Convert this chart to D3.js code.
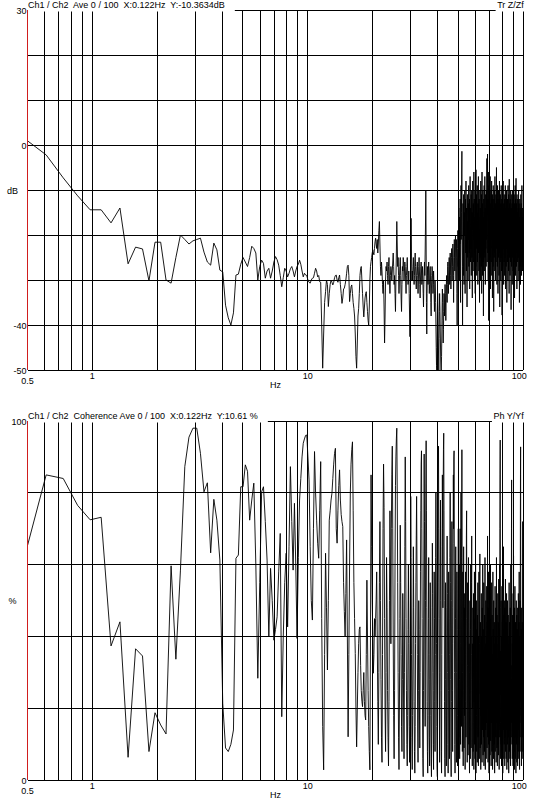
<!DOCTYPE html>
<html>
<head>
<meta charset="utf-8">
<script src="https://cdn.jsdelivr.net/npm/d3@7/dist/d3.min.js"></script>
<style>
  html, body { margin: 0; padding: 0; background: #fff; }
  svg { display: block; }
  text { font-family: "Liberation Sans", Arial, sans-serif; font-size: 9px; fill: #000; white-space: pre; }
</style>
</head>
<body>
<script>
// analyser FFT bins: value i sits at (firstBin + i) * binWidth Hz
var binWidth = 0.1220703;
var firstBin = 4;

// transfer function Tr Z/Zf, dB
var trValues = [
  1.3, -2.2, -7.3, -11.3, -14.4, -14.4, -17.3,
  -14, -26.4, -22.7, -23.1, -30.2, -21.6, -21.6, -30, -30.7, -25,
  -20, -21, -22, -21.3, -21, -20.7, -23.8, -26, -26.7, -21.8,
  -23.3, -27.8, -28.2, -35.6, -38.4, -40, -37.3, -28.9, -28.7, -26.5,
  -25, -26, -27, -25, -22.5, -23, -24, -30, -27, -25.6,
  -26.3, -29.6, -28, -27.4, -29.6, -28, -26, -24.8, -25.5, -26.7,
  -29, -31.5, -29.5, -27.4, -28, -29.3, -28.5, -27.5, -27, -28,
  -29.3, -28, -27, -26.5, -25.6, -26.5, -28, -29.3, -28.5, -28.9,
  -29, -30, -30.5, -30.7, -30, -29.6, -29.5, -28.5, -27.4, -28,
  -29.3, -29, -30.4, -30.5, -40, -49.6, -42, -35, -32.6, -30,
  -31, -35.9, -33, -31, -30, -30.5, -31.1, -30.5, -29.5, -29,
  -28.9, -30, -30.5, -29.5, -28.9, -31, -33, -35.2, -34, -32,
  -31.8, -31, -30, -28.5, -27, -26.7, -29, -34.8, -33, -31.5,
  -31.1, -33, -35, -36.3, -38, -42, -47, -49.6, -44, -38,
  -36.3, -33, -29, -27.5, -27, -30, -33, -36, -38.2, -36,
  -34, -33, -32.6, -35, -37, -39, -40, -36, -30, -27,
  -25.9, -25, -24, -23.3, -24, -24.4, -23, -21.5, -20.7, -22,
  -23, -21, -24, -22, -19, -17, -22, -27, -29, -26,
  -28, -31, -33, -30, -36, -44, -38, -30, -27, -28,
  -26, -29, -31, -27, -25, -30, -33, -29, -27, -28,
  -30, -28, -26, -24, -27, -31, -29, -33, -37, -30,
  -24, -17, -22, -27, -25, -29, -33, -30, -27, -25,
  -29, -34, -37, -31, -27, -28, -25, -26, -30, -28,
  -26, -27, -30, -33, -29, -27, -25, -28, -31, -30,
  -28, -33, -38, -42.6, -35, -25, -16.3, -24, -30, -28,
  -30, -27, -25, -28, -31, -29, -26, -24, -27, -30,
  -32, -29, -27, -26, -29, -33, -30, -27, -25, -28,
  -31, -34, -30, -27, -26, -28, -31, -29, -27, -30,
  -33, -36, -31, -28, -26, -29, -24, -18, -10.2, -22,
  -35, -42, -33, -27, -29, -31, -28, -26, -30, -33,
  -31, -28, -27, -30, -35, -38, -32, -29, -27, -28,
  -30, -33, -31, -28, -30, -34, -37, -33, -30, -32,
  -35, -40, -45, -49, -50, -44, -38, -33, -36, -42,
  -46, -50, -43, -37, -33, -36, -40, -44, -48, -50,
  -50, -47, -42, -36, -32, -35, -39, -44, -41, -37,
  -33, -35, -38, -34, -31, -33, -36, -39, -35, -31,
  -29, -32, -35, -31, -27, -26, -29, -33, -30, -27,
  -25, -28, -31, -27, -24, -26, -29, -32, -28, -25,
  -23, -26, -30, -27, -24, -22, -25, -29, -35, -28,
  -24, -21, -25, -28, -24, -22, -20, -26, -30, -25,
  -21, -24, -33, -40, -30, -23, -19, -22, -27, -20,
  -14, -25, -18, -30, -16, -22, -12, -28, -35, -19,
  -9, -21, -15, -6, -1.4, -18, -27, -40, -24, -13,
  -17, -29, -11, -23, -31, -15, -20, -10, -26, -33,
  -18, -12, -24, -8, -19, -28, -14, -22, -36, -16,
  -11, -25, -17, -30, -13, -21, -9, -27, -19, -24,
  -12, -32, -16, -7, -20, -26, -14, -23, -11, -29,
  -18, -10, -25, -15, -34, -19, -8, -22, -28, -13,
  -17, -26, -6, -21, -12, -30, -16, -24, -10, -33,
  -20, -14, -27, -5.5, -18, -23, -11, -29, -15, -22,
  -9, -26, -17, -31, -13, -20, -7, -24, -16, -28,
  -12, -21, -35, -18, -10, -25, -14, -30, -19, -8,
  -22, -15, -27, -11, -33, -17, -6, -23, -13, -29,
  -19, -10, -26, -16, -38, -21, -12, -24, -9, -28,
  -15, -20, -7, -25, -14, -31, -18, -11, -23, -16,
  -27, -10, -21, -13, -3, -19, -26, -8, -2, -17,
  -24, -12, -30, -6, -20, -39, -15, -9, -22, -14,
  -28, -11, -18, -25, -7, -16, -32, -13, -21, -10,
  -26, -15, -19, -8, -29, -12, -23, -17, -34, -11,
  -20, -14, -27, -9, -22, -16, -37, -12, -18, -25,
  -10, -21, -15, -28, -7, -19, -24, -13, -30, -17,
  -11, -26, -14, -20, -5, -23, -16, -31, -12, -18,
  -27, -9, -22, -15, -33, -13, -19, -25, -10, -21,
  -16, -29, -12, -24, -8, -20, -36, -14, -18, -26,
  -11, -22, -15, -30, -13, -19, -9, -25, -17, -28,
  -12, -21, -37.8, -16, -24, -10, -27, -14, -20, -18,
  -8, -23, -15, -31, -13, -19, -26, -11, -22, -17,
  -29, -12, -20, -14, -25, -9, -18, -32, -15, -21,
  -11, -27, -16, -23, -10, -19, -35, -13, -22, -17,
  -26, -12, -20, -15, -30, -9, -18, -24, -14, -28,
  -11, -21, -16, -33, -7.6, -19, -25, -13, -22, -17,
  -29, -12, -20, -15, -26, -10, -23, -18, -36.6, -14,
  -21, -16, -27, -11, -19, -24, -13, -31, -17, -22,
  -10, -25, -15, -20, -28, -12, -18, -23, -14, -30,
  -16, -21, -11, -26, -19, -34, -13, -22, -17, -25,
  -9, -20, -15, -29, -12, -24, -18, -7.4, -22, -16,
  -27, -13, -21, -19, -32, -11, -24, -17, -20, -15,
  -26, -12, -22, -18, -30, -14, -20, -25, -10, -23,
  -17, -28, -13, -21, -16, -35, -19, -24, -12, -22,
  -18, -27, -14, -20, -31, -15, -23, -11, -26, -19,
  -13, -24, -17, -29, -15, -21, -9, -25, -18, -22,
  -14, -28, -16, -20, -26, -19, -23, -27, -22
];

// coherence Ph Y/Yf, %
var cohValues = [
  63, 85, 84, 76.5, 72.5, 73.2, 37.4,
  44.1, 6.4, 36.6, 34.6, 8, 18.8, 15.4, 12.9, 59.7, 33.7,
  58.5, 87.3, 95.5, 98, 98, 91, 80.3, 82.8, 63.3, 78.2,
  72.4, 61.3, 21.4, 9, 8, 10, 14, 61.8, 62.7, 81.7,
  81.7, 87.8, 86, 72.4, 78, 82.7, 60, 28.4, 55, 80.3,
  81.7, 72, 61.3, 40, 59, 50, 39, 42, 45.5, 58,
  68.7, 17.7, 40, 55, 63.2, 42.7, 65, 87.3, 72, 58.5,
  77.1, 60, 39.5, 62, 78, 84, 90, 93.8, 95, 96,
  96.1, 90, 83.6, 65, 50, 44.6, 70, 91.5, 80, 72.4,
  66, 61.8, 75, 88.7, 45, 15, 2.9, 35, 63.2, 48,
  30.7, 50, 72.4, 75, 78, 79.9, 84, 88, 91, 92.4,
  70, 66, 75, 82, 86.4, 78, 74, 72, 70.6, 55,
  47, 40, 52, 66.9, 40, 12.1, 35, 60, 80, 88,
  92, 94.2, 75, 55, 45, 35.3, 20, 9.3, 20, 30,
  38, 42, 42.7, 32, 25, 22, 20.5, 25, 30, 22,
  18, 16.8, 35, 55.7, 40, 25, 15, 8, 2.9, 40,
  85, 65, 50, 40, 29.8, 35, 45, 40, 45, 50.2,
  58, 40, 22, 10, 30, 55, 72, 50, 28, 12,
  5, 35, 70, 88, 76, 45, 20, 8, 30, 62,
  48, 25, 12, 4, 22, 50, 75, 60, 38, 70,
  85, 93, 70, 40, 18, 6, 25, 60, 82, 90,
  95, 98, 80, 55, 30, 12, 3, 20, 45, 71,
  55, 35, 15, 8, 28, 52, 40, 20, 6, 30,
  65, 90, 72, 45, 25, 10, 4, 18, 42, 60,
  38, 15, 5, 22, 50, 79, 62, 35, 12, 3,
  18, 40, 65, 48, 22, 8, 2, 15, 38, 55,
  68, 79, 60, 35, 14, 5, 25, 50, 42, 20,
  9, 30, 58, 75, 88, 91.7, 70, 45, 20, 6,
  1, 25, 60, 90.8, 72, 40, 15, 50, 80, 94.5,
  75, 48, 22, 8, 2, 18, 45, 62, 35, 12,
  4, 28, 55, 40, 18, 6, 1, 20, 48, 66,
  52, 30, 10, 3, 25, 58, 45, 22, 8, 35,
  62, 80, 60, 38, 15, 4, 1, 25, 55, 85,
  93, 70, 45, 20, 5, 30, 60, 78, 50, 25,
  8, 2, 35, 65, 85, 70, 48, 80, 92, 96.6,
  75, 50, 22, 6, 1, 28, 55, 40, 18, 4,
  20, 48, 68, 52, 30, 10, 2, 25, 58, 45,
  20, 6, 35, 62, 80, 55, 28, 8, 1, 22,
  50, 72, 48, 25, 8, 38, 66, 85, 70, 90,
  91.7, 60, 30, 10, 2, 20, 45, 65, 40, 15,
  5, 30, 58, 42, 18, 4, 26, 52, 70, 48,
  12, 35, 60, 28, 6, 42, 70, 38, 10, 55,
  80, 45, 15, 62, 92, 50, 8, 30, 58, 20,
  4, 40, 65, 25, 9, 48, 18, 52, 30, 3,
  22, 58, 35, 12, 45, 68, 75, 40, 14, 5,
  32, 55, 20, 7, 44, 62, 26, 10, 38, 15,
  2, 30, 50, 18, 6, 42, 60, 25, 9, 35,
  55, 68, 28, 12, 4, 38, 20, 48, 8, 30,
  52, 16, 3, 40, 22, 58, 10, 34, 6, 45,
  25, 60, 14, 2, 36, 50, 18, 8, 42, 28,
  5, 46, 20, 55, 12, 32, 4, 40, 24, 58,
  15, 6, 38, 50, 63, 22, 9, 44, 28, 3,
  35, 18, 52, 10, 40, 26, 5, 48, 14, 30,
  60, 20, 7, 42, 32, 12, 55, 4, 36, 22,
  8, 46, 18, 62, 28, 3, 38, 14, 50, 24,
  6, 40, 16, 54, 30, 9, 44, 20, 68, 12,
  34, 5, 48, 22, 58, 10, 36, 2, 42, 26,
  14, 52, 30, 7, 45, 18, 60, 11, 38, 24,
  4, 40, 16, 55, 28, 8, 46, 20, 35, 3,
  30, 58, 12, 42, 22, 6, 50, 18, 38, 10,
  44, 26, 2, 36, 15, 54, 8, 32, 20, 48,
  12, 40, 5, 28, 62, 16, 38, 9, 46, 22,
  4, 34, 18, 52, 10, 30, 44, 7, 24, 56,
  14, 38, 3, 42, 20, 60, 12, 70, 85, 94.7,
  48, 16, 6, 36, 24, 50, 10, 32, 4, 40,
  18, 54, 8, 28, 44, 12, 36, 2, 46, 22,
  14, 38, 65, 20, 6, 42, 28, 10, 50, 16,
  34, 4, 48, 22, 12, 40, 56, 8, 30, 18,
  44, 6, 36, 14, 52, 24, 3, 42, 16, 32,
  10, 50, 20, 38, 5, 28, 46, 12, 34, 22,
  2, 40, 16, 55, 26, 8, 44, 18, 30, 6,
  36, 14, 48, 22, 4, 42, 60, 10, 28, 16,
  50, 70, 83.6, 40, 12, 32, 20, 6, 38, 24,
  46, 10, 30, 4, 52, 18, 36, 62.5, 14, 26,
  8, 42, 20, 34, 3, 48, 16, 28, 54, 12,
  38, 6, 24, 44, 14, 32, 2, 40, 20, 50,
  10, 30, 18, 46, 5, 36, 22, 12, 42, 28,
  4, 48, 16, 34, 8, 26, 52, 14, 38, 20,
  6, 44, 24, 58, 10, 30, 3, 40, 18, 36,
  12, 50, 22, 72, 85, 92.8, 60, 28, 8, 34,
  16, 42, 4, 26, 48, 14, 36, 20, 6, 30,
  44, 12, 24, 72, 38, 8, 28, 18, 40
];

var freqGrid   = [0.6, 0.7, 0.8, 0.9, 1, 2, 3, 4, 5, 6, 7, 8, 9, 10, 20, 30, 40, 50, 60, 70, 80, 90, 100];
var freqLabels = [1, 10, 100];
var trGrid     = [30, 20, 10, 0, -10, -20, -30, -40, -50];
var trLabels   = [30, 0, -40, -50];
var cohGrid    = [100, 80, 60, 40, 20, 0];
var cohLabels  = [100, 0];

var width = 534, height = 805;

var svg = d3.select("body").append("svg")
    .attr("width", width)
    .attr("height", height);

var x = d3.scaleLog().domain([0.5, 100]).range([27.5, 523.3]);

function toPoints(values) {
    return values.map(function(v, i) { return { f: (firstBin + i) * binWidth, v: v }; });
}

function drawPanel(cfg) {
    var y = cfg.y;
    var top = y.range()[1], bottom = y.range()[0];
    var left = x.range()[0], right = x.range()[1];
    var g = svg.append("g");

    g.append("clipPath").attr("id", cfg.id)
      .append("rect")
        .attr("x", left).attr("y", top)
        .attr("width", right - left).attr("height", bottom - top);

    g.selectAll(".vgrid")
        .data(freqGrid)
      .enter().append("line")
        .attr("x1", function(d) { return x(d); })
        .attr("x2", function(d) { return x(d); })
        .attr("y1", top).attr("y2", bottom)
        .attr("stroke", "#000")
        .attr("shape-rendering", "crispEdges");

    g.selectAll(".hgrid")
        .data(cfg.grid)
      .enter().append("line")
        .attr("x1", left).attr("x2", right)
        .attr("y1", function(d) { return y(d); })
        .attr("y2", function(d) { return y(d); })
        .attr("stroke", "#000")
        .attr("shape-rendering", "crispEdges");

    var line = d3.line()
        .x(function(d) { return x(d.f); })
        .y(function(d) { return y(d.v); });

    g.append("path")
        .datum(toPoints(cfg.values))
        .attr("clip-path", "url(#" + cfg.id + ")")
        .attr("fill", "none")
        .attr("stroke", "#000")
        .attr("stroke-width", 0.9)
        .attr("stroke-linejoin", "round")
        .attr("d", line);

    // title boxes sit on top of the upper grid line
    var lbox = g.append("rect").attr("fill", "#fff");
    var title = g.append("text")
        .attr("x", left + 0.5)
        .attr("y", top - 2)
        .text(cfg.title);
    var tw = title.node().getComputedTextLength();
    lbox.attr("x", 0).attr("y", top - 11)
        .attr("width", left + 0.5 + tw + 10).attr("height", 12.5);

    var rbox = g.append("rect").attr("fill", "#fff");
    var rtitle = g.append("text")
        .attr("x", right + 0.5)
        .attr("y", top - 2)
        .attr("text-anchor", "end")
        .text(cfg.tag);
    var rw = rtitle.node().getComputedTextLength();
    rbox.attr("x", right + 0.5 - rw - 1.5).attr("y", top - 11)
        .attr("width", width).attr("height", 12.5);

    // red left axis
    g.append("line")
        .attr("x1", left).attr("x2", left)
        .attr("y1", top).attr("y2", bottom)
        .attr("stroke", "#d01e1e")
        .attr("stroke-width", 1)
        .attr("shape-rendering", "crispEdges");

    g.selectAll(".ylab")
        .data(cfg.labels)
      .enter().append("text")
        .attr("x", left - 1)
        .attr("y", function(d) { return y(d) + 3.5; })
        .attr("text-anchor", "end")
        .text(function(d) { return d; });

    g.append("text")
        .attr("x", 12.5)
        .attr("y", y((y.domain()[0] + y.domain()[1]) / 2) + 3.5)
        .attr("text-anchor", "middle")
        .text(cfg.unit);

    g.append("text")
        .attr("x", x(0.5))
        .attr("y", bottom + 14)
        .attr("text-anchor", "middle")
        .text("0.5");

    g.selectAll(".xlab")
        .data(freqLabels)
      .enter().append("text")
        .attr("x", function(d) { return d === 100 ? x(d) + 3.5 : x(d); })
        .attr("y", bottom + 8.5)
        .attr("text-anchor", function(d) { return d === 100 ? "end" : "middle"; })
        .text(function(d) { return d; });

    g.append("text")
        .attr("x", (left + right) / 2)
        .attr("y", bottom + 18)
        .attr("text-anchor", "middle")
        .text("Hz");
}

drawPanel({
    id: "clipTr",
    y: d3.scaleLinear().domain([-50, 30]).range([370, 10]),
    grid: trGrid,
    labels: trLabels,
    values: trValues,
    unit: "dB",
    title: "Ch1 / Ch2  Ave 0 / 100  X:0.122Hz  Y:-10.3634dB",
    tag: "Tr Z/Zf"
});

drawPanel({
    id: "clipCoh",
    y: d3.scaleLinear().domain([0, 100]).range([780.3, 421]),
    grid: cohGrid,
    labels: cohLabels,
    values: cohValues,
    unit: "%",
    title: "Ch1 / Ch2  Coherence Ave 0 / 100  X:0.122Hz  Y:10.61 %",
    tag: "Ph Y/Yf"
});
</script>
</body>
</html>
